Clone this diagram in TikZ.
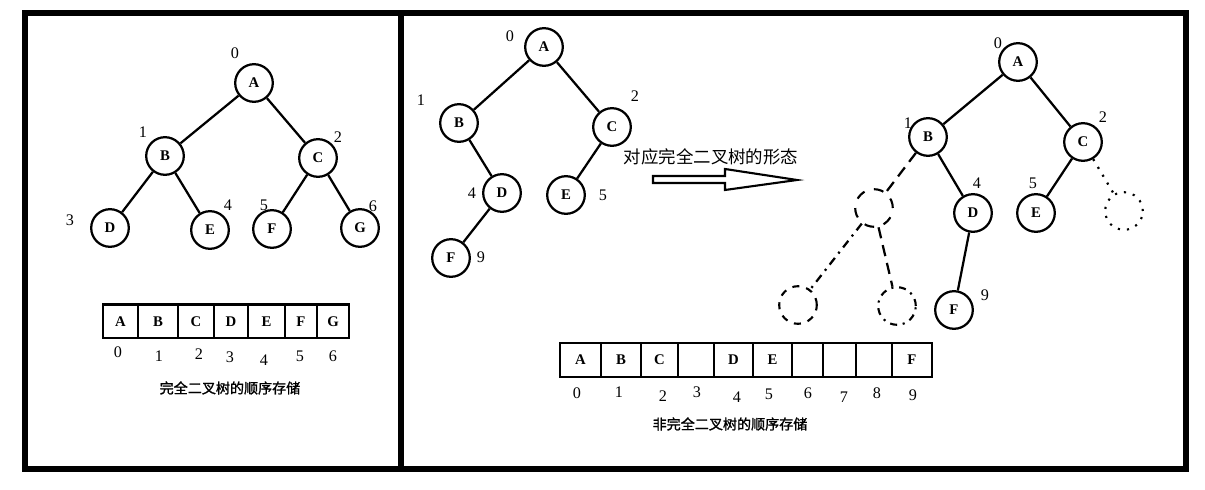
\documentclass[tikz,border=0pt]{standalone}
\usepackage{fontspec}
\setmainfont{Liberation Serif}
\newfontfamily\cjk{Noto Sans CJK SC}
\newfontfamily\cjkbf[FakeBold=1.5]{Noto Sans CJK SC}
\usetikzlibrary{positioning}

\begin{document}
\begin{tikzpicture}[
  x=0.025cm, y=-0.025cm,
  font=\fontsize{11}{12}\selectfont,
  vtx/.style={circle, draw, line width=1.6pt, minimum size=0.94cm,
    inner sep=0pt, font=\fontsize{10.5}{12}\selectfont\bfseries},
  ghost/.style={circle, draw, line width=1.5pt, minimum size=0.94cm,
    inner sep=0pt},
  idx/.style={inner sep=0pt, font=\fontsize{11.5}{12}\selectfont},
  cell/.style={draw, line width=1.7pt, minimum height=0.84cm, inner sep=0pt,
    font=\fontsize{10.5}{12}\selectfont\bfseries},
  edge/.style={line width=1.6pt},
  caption/.style={font=\fontsize{10}{12}\selectfont\cjkbf},
]
\useasboundingbox (0,0) rectangle (1205,490);

% Frame
\draw[line width=4.2pt] (25,13) rectangle (1186,469);
\draw[line width=4.2pt] (401,13) -- (401,469);

% Complete tree (left)
\node[vtx] (lA) at (254,83) {A};
\node[vtx] (lB) at (165,156) {B};
\node[vtx] (lC) at (318,158) {C};
\node[vtx] (lD) at (110,228) {D};
\node[vtx] (lE) at (210,230) {E};
\node[vtx] (lF) at (272,229) {F};
\node[vtx] (lG) at (360,228) {G};
\draw[edge] (lA) -- (lB);
\draw[edge] (lA) -- (lC);
\draw[edge] (lB) -- (lD);
\draw[edge] (lB) -- (lE);
\draw[edge] (lC) -- (lF);
\draw[edge] (lC) -- (lG);
\node[idx] (l0) at (235,53) {0};
\node[idx] (l1) at (143,132) {1};
\node[idx] (l2) at (338,137) {2};
\node[idx] (l3) at (70,220) {3};
\node[idx] (l4) at (228,205) {4};
\node[idx] (l5) at (264,205) {5};
\node[idx] (l6) at (373,206) {6};

% Complete tree storage
\node[cell, minimum width=0.875cm] (la0) at (120.5,321.5) {A};
\node[cell, minimum width=1.0cm] (la1) at (158,321.5) {B};
\node[cell, minimum width=0.9cm] (la2) at (196,321.5) {C};
\node[cell, minimum width=0.85cm] (la3) at (231,321.5) {D};
\node[cell, minimum width=0.925cm] (la4) at (266.5,321.5) {E};
\node[cell, minimum width=0.8cm] (la5) at (301,321.5) {F};
\node[cell, minimum width=0.8cm] (la6) at (333,321.5) {G};
\node[idx] (li0) at (118,352) {0};
\node[idx] (li1) at (159,356) {1};
\node[idx] (li2) at (199,354) {2};
\node[idx] (li3) at (230,357) {3};
\node[idx] (li4) at (264,360) {4};
\node[idx] (li5) at (300,356) {5};
\node[idx] (li6) at (333,356) {6};
\node[caption] (cap1) at (230,388) {完全二叉树的顺序存储};

% Incomplete tree (middle)
\node[vtx] (mA) at (544,47) {A};
\node[vtx] (mB) at (459,123) {B};
\node[vtx] (mC) at (612,127) {C};
\node[vtx] (mD) at (502,193) {D};
\node[vtx] (mE) at (566,195) {E};
\node[vtx] (mF) at (451,258) {F};
\draw[edge] (mA) -- (mB);
\draw[edge] (mA) -- (mC);
\draw[edge] (mB) -- (mD);
\draw[edge] (mC) -- (mE);
\draw[edge] (mD) -- (mF);
\node[idx] (m0) at (510,36) {0};
\node[idx] (m1) at (421,100) {1};
\node[idx] (m2) at (635,96) {2};
\node[idx] (m4) at (472,193) {4};
\node[idx] (m5) at (603,195) {5};
\node[idx] (m9) at (481,257) {9};

% Hollow arrow
\node[font=\fontsize{12.4}{14}\selectfont\cjk] (lbl) at (711,157)
  {对应完全二叉树的形态};
\draw[line width=1.5pt] (653,176) -- (725,176) -- (725,169) -- (797,180)
  -- (725,190) -- (725,183) -- (653,183) -- cycle;

% Same tree completed (right)
\node[vtx] (rA) at (1018,62) {A};
\node[vtx] (rB) at (928,137) {B};
\node[vtx] (rC) at (1083,142) {C};
\node[vtx] (rD) at (973,213) {D};
\node[vtx] (rE) at (1036,213) {E};
\node[vtx] (rF) at (954,310) {F};
\node[ghost, dash pattern=on 7pt off 7pt] (g1) at (874,208) {};
\node[ghost, dash pattern=on 5pt off 5pt] (g2) at (798,305) {};
\node[ghost, dash pattern=on 5pt off 4pt on 1.5pt off 4pt] (g3) at (897,306) {};
\node[ghost, dash pattern=on 1.5pt off 5pt] (g4) at (1124,211) {};
\draw[edge] (rA) -- (rB);
\draw[edge] (rA) -- (rC);
\draw[edge] (rB) -- (rD);
\draw[edge] (rC) -- (rE);
\draw[edge] (rD) -- (rF);
\draw[edge, dash pattern=on 8pt off 5pt] (rB) -- (g1);
\draw[edge, dash pattern=on 6pt off 4pt on 1.5pt off 4pt] (g1) -- (g2);
\draw[edge, dash pattern=on 8pt off 5pt] (g1) -- (g3);
\draw[edge, dash pattern=on 1.5pt off 5pt] (rC) -- (g4);
\node[idx] (r0) at (998,43) {0};
\node[idx] (r1) at (908,123) {1};
\node[idx] (r2) at (1103,117) {2};
\node[idx] (r4) at (977,183) {4};
\node[idx] (r5) at (1033,183) {5};
\node[idx] (r9) at (985,295) {9};

% Incomplete tree storage
\node[cell, minimum width=1.025cm] (ra0) at (580.5,360) {A};
\node[cell, minimum width=1.0cm] (ra1) at (621,360) {B};
\node[cell, minimum width=0.925cm] (ra2) at (659.5,360) {C};
\node[cell, minimum width=0.9cm] (ra3) at (696,360) {};
\node[cell, minimum width=0.975cm] (ra4) at (733.5,360) {D};
\node[cell, minimum width=0.975cm] (ra5) at (772.5,360) {E};
\node[cell, minimum width=0.775cm] (ra6) at (807.5,360) {};
\node[cell, minimum width=0.825cm] (ra7) at (839.5,360) {};
\node[cell, minimum width=0.9cm] (ra8) at (874,360) {};
\node[cell, minimum width=1.0cm] (ra9) at (912,360) {F};
\node[idx] (ri0) at (577,393) {0};
\node[idx] (ri1) at (619,392) {1};
\node[idx] (ri2) at (663,396) {2};
\node[idx] (ri3) at (697,392) {3};
\node[idx] (ri4) at (737,397) {4};
\node[idx] (ri5) at (769,394) {5};
\node[idx] (ri6) at (808,393) {6};
\node[idx] (ri7) at (844,397) {7};
\node[idx] (ri8) at (877,393) {8};
\node[idx] (ri9) at (913,395) {9};
\node[caption] (cap2) at (730,424) {非完全二叉树的顺序存储};
\end{tikzpicture}
\end{document}
